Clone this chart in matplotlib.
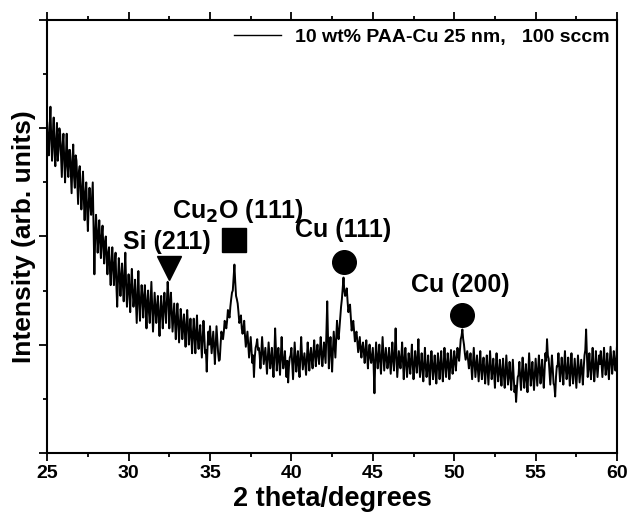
import matplotlib
matplotlib.use("Agg")
import matplotlib.pyplot as plt
import numpy as np

plt.rcParams['font.family'] = ['Liberation Sans', 'DejaVu Sans']
plt.rcParams['font.weight'] = 'bold'

# intensity (arb. units), at 25.0, 25.1, ... 60.0
intensity_a = [
    3.05, 2.75, 3.20, 2.70, 3.10, 2.65, 3.05, 2.80, 2.95, 2.55,  # 25
    2.95, 2.50, 2.95, 2.55, 2.80, 2.40, 2.85, 2.45, 2.70, 2.30,  # 26
    2.65, 2.25, 2.60, 2.15, 2.50, 2.05, 2.45, 2.20, 2.50, 1.65,  # 27
    2.20, 1.85, 2.15, 1.80, 2.10, 1.75, 2.00, 1.65, 1.90, 1.55,  # 28
    1.90, 1.55, 1.85, 1.35, 1.80, 1.45, 1.75, 1.40, 1.85, 1.35,  # 29
    1.65, 1.30, 1.70, 1.35, 1.60, 1.20, 1.68, 1.22, 1.55, 1.25,  # 30
    1.55, 1.15, 1.50, 1.20, 1.58, 1.12, 1.48, 1.20, 1.45, 1.08,  # 31
    1.45, 1.15, 1.48, 1.20, 1.58, 1.15, 1.48, 1.12, 1.38, 1.05,  # 32
    1.38, 1.02, 1.33, 1.05, 1.28, 0.98, 1.32, 1.00, 1.24, 0.92,  # 33
    1.24, 0.92, 1.27, 0.96, 1.18, 0.88, 1.22, 0.92, 0.75, 1.12,  # 34
    1.17, 0.92, 1.12, 0.82, 1.17, 0.92, 0.86, 1.12, 1.05, 1.22,  # 35
    1.15, 1.32, 1.25, 1.42, 1.50, 1.74, 1.45, 1.38, 1.20, 1.27,  # 36
    1.10, 1.22, 0.98, 1.12, 0.88, 1.07, 0.83, 0.70, 0.97, 1.05,  # 37
    0.97, 0.78, 1.07, 0.82, 0.97, 0.73, 1.02, 0.78, 0.97, 0.70,  # 38
    1.15, 0.76, 0.97, 0.72, 1.07, 0.78, 0.94, 0.70, 0.65, 0.88,  # 39
    0.97, 0.68, 1.02, 0.75, 0.94, 0.70, 1.07, 0.77, 0.92, 0.72,  # 40
    1.02, 0.76, 0.97, 0.78, 1.04, 0.80, 1.00, 0.82, 1.07, 0.80,  # 41
    1.02, 0.83, 1.40, 0.78, 1.07, 0.75, 1.12, 0.88, 1.22, 1.05,  # 42
    1.25, 1.42, 1.62, 1.45, 1.52, 1.30, 1.37, 1.13, 1.22, 1.03,  # 43
    1.12, 0.93, 1.07, 0.88, 1.02, 0.83, 1.04, 0.78, 1.00, 0.83,  # 44
    0.97, 0.55, 1.02, 0.78, 1.00, 0.73, 1.07, 0.76, 0.97, 0.78,  # 45
    0.97, 0.73, 1.02, 0.76, 1.15, 0.70, 0.94, 0.78, 1.02, 0.68,  # 46
    0.97, 0.70, 0.92, 0.73, 1.00, 0.68, 0.94, 0.74, 1.05, 0.70,  # 47
    0.92, 0.66, 0.97, 0.70, 0.90, 0.63, 0.94, 0.68, 0.90, 0.64,  # 48
    0.92, 0.68, 0.94, 0.66, 0.97, 0.70, 0.92, 0.68, 0.95, 0.73,  # 49
    0.94, 0.76, 0.97, 0.85, 1.05, 1.14, 1.00, 0.86, 0.94, 0.78,  # 50
    0.92, 0.68, 0.97, 0.70, 0.90, 0.66, 0.94, 0.68, 0.88, 0.64,  # 51
    0.90, 0.63, 0.94, 0.68, 0.87, 0.60, 0.92, 0.66, 0.86, 0.62,  # 52
    0.87, 0.60, 0.90, 0.63, 0.84, 0.58, 0.86, 0.56, 0.47, 0.70,  # 53
    0.84, 0.58, 0.88, 0.60, 0.82, 0.56, 0.92, 0.62, 0.84, 0.58,  # 54
    0.87, 0.62, 0.90, 0.64, 0.86, 0.60, 0.92, 1.05, 0.87, 0.63,  # 55
    0.90, 0.64, 0.52, 0.80, 0.92, 0.66, 0.88, 0.63, 0.94, 0.68,  # 56
    0.88, 0.62, 0.92, 0.64, 0.87, 0.60, 0.90, 0.65, 0.86, 0.63,  # 57
    0.90, 1.14, 0.70, 0.92, 0.68, 0.97, 0.66, 0.94, 0.70, 0.90,  # 58
    0.94, 0.70, 0.97, 0.72, 0.92, 0.68, 0.98, 0.73, 0.94, 0.76,  # 59
    1.00,                                                        # 60
]
# intensity at the in-between steps 25.05, 25.15, ... 59.95
intensity_b = [
    2.85, 3.00, 2.90, 2.95, 2.80, 2.90, 2.70, 3.00, 2.75, 2.85,  # 25
    2.70, 2.75, 2.65, 2.80, 2.60, 2.70, 2.55, 2.75, 2.50, 2.60,  # 26
    2.45, 2.40, 2.35, 2.40, 2.25, 2.30, 2.30, 2.35, 2.05, 2.00,  # 27
    2.05, 2.00, 1.95, 2.00, 1.90, 1.95, 1.80, 1.85, 1.70, 1.75,  # 28
    1.70, 1.75, 1.55, 1.60, 1.65, 1.60, 1.55, 1.65, 1.55, 1.50,  # 29
    1.50, 1.55, 1.50, 1.45, 1.40, 1.45, 1.40, 1.40, 1.45, 1.42,  # 30
    1.35, 1.40, 1.30, 1.38, 1.35, 1.30, 1.33, 1.35, 1.25, 1.30,  # 31
    1.30, 1.35, 1.32, 1.40, 1.45, 1.35, 1.30, 1.25, 1.22, 1.25,  # 32
    1.20, 1.18, 1.22, 1.15, 1.12, 1.18, 1.15, 1.10, 1.08, 1.10,  # 33
    1.08, 1.12, 1.05, 1.10, 1.02, 1.05, 1.08, 0.95, 0.98, 1.00,  # 34
    1.05, 1.02, 0.98, 1.00, 1.05, 0.85, 1.00, 1.08, 1.12, 1.20,  # 35
    1.22, 1.28, 1.35, 1.48, 1.62, 1.58, 1.42, 1.30, 1.22, 1.15,  # 36
    1.15, 1.08, 1.05, 1.00, 0.98, 0.95, 0.90, 0.88, 1.00, 0.95,  # 37
    0.90, 0.92, 0.95, 0.90, 0.85, 0.88, 0.90, 0.86, 0.82, 0.88,  # 38
    0.95, 0.88, 0.85, 0.90, 0.88, 0.85, 0.80, 0.85, 0.80, 0.90,  # 39
    0.82, 0.85, 0.88, 0.86, 0.80, 0.88, 0.90, 0.85, 0.82, 0.88,  # 40
    0.88, 0.90, 0.86, 0.92, 0.90, 0.93, 0.90, 0.95, 0.92, 0.90,  # 41
    0.92, 1.10, 1.05, 0.95, 0.90, 0.95, 1.00, 1.05, 1.10, 1.15,  # 42
    1.35, 1.52, 1.50, 1.48, 1.40, 1.35, 1.25, 1.18, 1.12, 1.10,  # 43
    1.02, 1.00, 0.95, 0.98, 0.92, 0.95, 0.90, 0.92, 0.88, 0.90,  # 44
    0.80, 0.85, 0.90, 0.88, 0.85, 0.90, 0.92, 0.86, 0.88, 0.85,  # 45
    0.85, 0.88, 0.86, 0.92, 0.90, 0.82, 0.86, 0.88, 0.84, 0.86,  # 46
    0.82, 0.80, 0.84, 0.86, 0.82, 0.80, 0.85, 0.88, 0.82, 0.80,  # 47
    0.78, 0.82, 0.80, 0.78, 0.76, 0.80, 0.82, 0.78, 0.76, 0.80,  # 48
    0.80, 0.82, 0.78, 0.80, 0.84, 0.80, 0.82, 0.78, 0.84, 0.82,  # 49
    0.85, 0.88, 0.90, 0.95, 1.08, 1.05, 0.92, 0.90, 0.86, 0.84,  # 50
    0.80, 0.82, 0.84, 0.80, 0.78, 0.80, 0.78, 0.80, 0.76, 0.78,  # 51
    0.76, 0.78, 0.80, 0.76, 0.74, 0.78, 0.77, 0.75, 0.74, 0.76,  # 52
    0.72, 0.75, 0.76, 0.72, 0.70, 0.72, 0.70, 0.62, 0.60, 0.72,  # 53
    0.70, 0.72, 0.74, 0.70, 0.68, 0.74, 0.76, 0.72, 0.70, 0.72,  # 54
    0.74, 0.76, 0.78, 0.75, 0.72, 0.76, 0.85, 0.90, 0.75, 0.76,  # 55
    0.78, 0.62, 0.70, 0.80, 0.78, 0.76, 0.75, 0.80, 0.78, 0.75,  # 56
    0.76, 0.78, 0.75, 0.76, 0.74, 0.76, 0.78, 0.75, 0.74, 0.78,  # 57
    0.95, 0.90, 0.80, 0.78, 0.82, 0.80, 0.78, 0.82, 0.80, 0.82,  # 58
    0.82, 0.84, 0.83, 0.80, 0.78, 0.84, 0.85, 0.82, 0.84, 0.86,  # 59
]

theta_a = np.arange(250, 601) / 10.0
theta_b = np.arange(250, 600) / 10.0 + 0.05
two_theta = np.concatenate([theta_a, theta_b])
counts = np.concatenate([intensity_a, intensity_b])
order = np.argsort(two_theta)
two_theta = two_theta[order]
counts = counts[order]

# peak labels: text, text position, marker position, marker
peak_labels = ["Si (211)", "Cu$_2$O (111)", "Cu (111)", "Cu (200)"]
label_xy = [(32.35, 1.95), (36.75, 2.24), (43.2, 2.06), (50.4, 1.55)]
marker_xy = [(32.5, 1.71), (36.5, 1.97), (43.2, 1.76), (50.5, 1.27)]
marker_kind = ["v", "s", "o", "o"]

fig = plt.figure(figsize=(6.29, 5.18), dpi=100)
ax = fig.add_axes([0.075, 0.126, 0.906, 0.835])

ax.plot(two_theta, counts, color="black", lw=1.4,
        label="10 wt% PAA-Cu 25 nm,   100 sccm")

for txt, (tx, ty), (mx, my), mk in zip(peak_labels, label_xy, marker_xy, marker_kind):
    ax.text(tx, ty, txt, ha="center", va="center", fontsize=18, fontweight="bold")
    ax.plot(mx, my, marker=mk, color="black", markersize=17,
            linestyle="none")

ax.set_xlim(25, 60)
ax.set_ylim(0, 4)
ax.set_xticks(np.arange(25, 61, 5))
ax.set_xticks(np.arange(27.5, 60, 5), minor=True)
ax.set_yticks([0, 1, 2, 3, 4])
ax.set_yticks([0.5, 1.5, 2.5, 3.5], minor=True)
ax.set_yticklabels([])
ax.tick_params(which="both", direction="out", width=1.3, top=True, right=False,
               labelsize=14)
ax.tick_params(which="major", length=5.5)
ax.tick_params(which="minor", length=3)
for lab in ax.get_xticklabels():
    lab.set_fontweight("bold")
for s in ax.spines.values():
    s.set_linewidth(1.5)

ax.set_xlabel("2 theta/degrees", fontsize=19.5, fontweight="bold", labelpad=3)
ax.set_ylabel("Intensity (arb. units)", fontsize=19, fontweight="bold", labelpad=-1)

leg = ax.legend(loc="upper right", frameon=False, prop={"weight": "bold", "size": 14},
                handlelength=2.4, borderaxespad=0.1, borderpad=0.3, handletextpad=0.7)
leg.get_lines()[0].set_linewidth(1.0)

fig.savefig("out.png", dpi=100)
